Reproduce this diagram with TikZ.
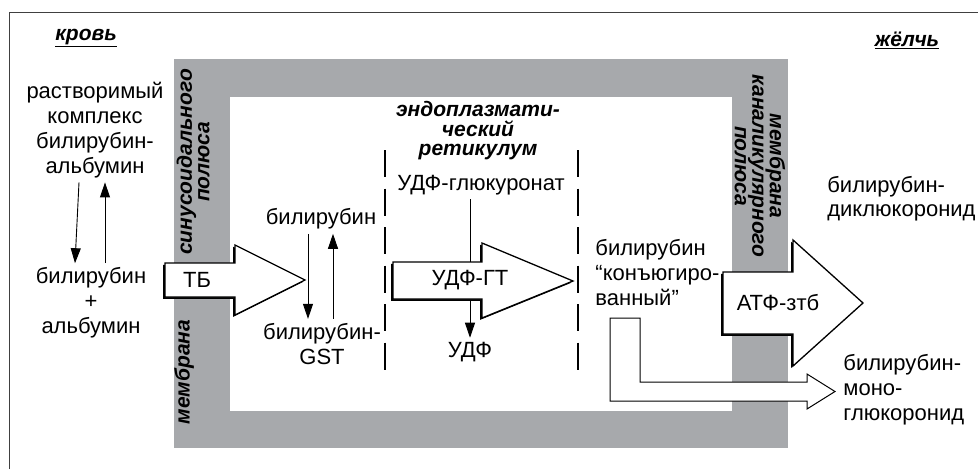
\documentclass[tikz,border=0pt]{standalone}
\usepackage{fontspec}
\setmainfont{Liberation Sans}
\usetikzlibrary{arrows.meta,positioning,shadows}
\definecolor{membrane}{RGB}{167,169,172}

\begin{document}
\begin{tikzpicture}[
	x = 1pt, y = -1pt, % pixel-like units, y going down
	> = {Triangle[length=15pt,width=10pt]}, % arrow head style
	line width=0.9pt, % line style
	font=\fontsize{22}{25}\selectfont,
	txt/.style = {align=center, inner sep=4pt},
	lefttxt/.style = {align=left, inner sep=0pt, anchor=west},
	title/.style = {font=\fontsize{21}{19.5}\selectfont\bfseries\itshape, align=center, inner sep=0pt},
	wall/.style = {font=\fontsize{21}{17.5}\selectfont\bfseries\itshape, align=center, inner sep=0pt},
	blockarrow/.style = {draw, fill=white, line width=1.3pt, miter limit=20,
		drop shadow={shadow xshift=-1.8pt, shadow yshift=-1.8pt, fill=black, opacity=1}},
	thinarrow/.style = {draw, fill=white, line width=1pt},
	erline/.style = {line width=1.6pt, dash pattern=on 27pt off 11.5pt}
	]
	\useasboundingbox (0,0) rectangle (978,469);
	
	% frame and membrane
	\draw[black!75, line width=1pt] (9,469) -- (9,12) -- (978,12);
	\fill[membrane] (174,59) rectangle (788,448);
	\fill[white] (230,97) rectangle (732,411);
	
	% endoplasmic reticulum
	\draw[erline] (385,150) -- (385,372);
	\draw[erline] (578,150) -- (578,372);
	
	\node[title] (blood) at (86,38) {\underline{кровь}};
	\node[title] (bile) at (907,40) {\underline{жёлчь}};
	\node[title] (er) at (478,131) {эндоплазмати-\\ческий\\ретикулум};
	
	\node[wall, rotate=90] (sinpole) at (193,162) {синусоидального\\полюса};
	\node[wall, rotate=90] (memleft) at (184,372) {мембрана};
	\node[wall, rotate=-90] (canpole) at (760,166) {мембрана\\каналикулярного\\полюса};
	
	\node[txt] (complex) at (95,130) {растворимый\\комплекс\\билирубин-\\альбумин};
	\node[txt] (free) at (91,303) {билирубин\\+\\альбумин};
	\node[txt] (bil) at (321,219) {билирубин};
	\node[txt] (bilgst) at (322,344) {билирубин-\\GST};
	\node[txt] (udfglc) at (481,185) {УДФ-глюкуронат};
	\node[txt] (udf) at (470,352) {УДФ};
	\node[lefttxt] (conj) at (595,273) {билирубин\\“конъюгиро-\\ванный”};
	\node[lefttxt, anchor=east, font=\fontsize{22}{24}\selectfont] (di) at (976,199) {билирубин-\\диклюкоронид};
	\node[lefttxt] (mono) at (843,390) {билирубин-\\моно-\\глюкоронид};
	
	\path[->]
	([xshift=-16pt]complex.south) edge ([xshift=-16pt]free.north)
	([xshift=14pt]free.north) edge ([xshift=10pt]complex.south)
	([xshift=-13pt]bil.south) edge ([xshift=-14pt]bilgst.north)
	([xshift=11pt]bilgst.north) edge ([xshift=12pt]bil.south)
	([xshift=-11pt]udfglc.south) edge (udf.north);
	
	% transport and enzyme arrows
	\path[thinarrow] (610,318) -- (640,318) -- (640,382) -- (807,382) -- (807,374)
	-- (835,391.5) -- (807,409) -- (807,401) -- (610,401) -- cycle;
	\path[blockarrow] (165,263) -- (235,263) -- (235,245) -- (305,280)
	-- (235,315) -- (235,297) -- (165,297) -- cycle;
	\path[blockarrow] (393,262) -- (482,262) -- (482,243) -- (573,281)
	-- (482,318) -- (482,299) -- (393,299) -- cycle;
	\path[blockarrow] (723,272) -- (793,272) -- (793,240) -- (863,303)
	-- (793,366) -- (793,334) -- (723,334) -- cycle;
	
	\node[txt] (tb) at (197,280) {ТБ};
	\node[txt] (udfgt) at (470,280) {УДФ-ГТ};
	\node[txt] (atf) at (778,303) {АТФ-зтб};
\end{tikzpicture}
\end{document}
